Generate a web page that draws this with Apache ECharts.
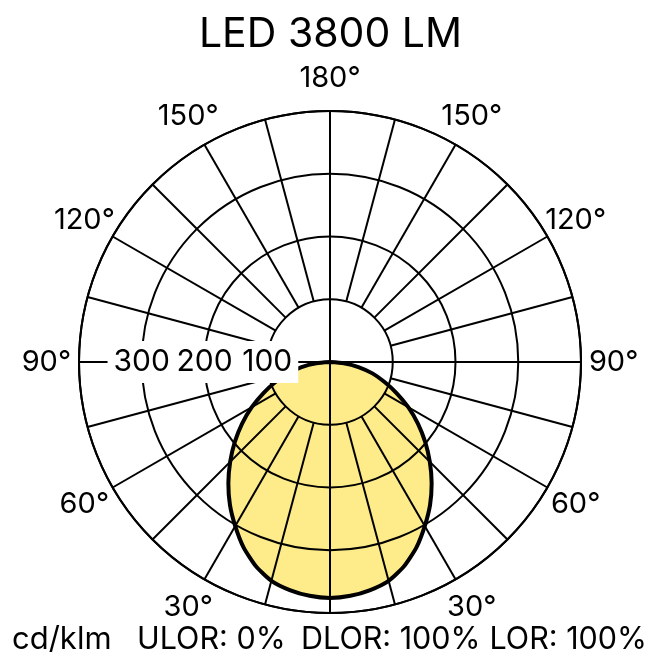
<!DOCTYPE html>
<html><head><meta charset="utf-8">
<script src="https://cdn.jsdelivr.net/npm/echarts@6/dist/echarts.min.js"></script>
<style>html,body{margin:0;padding:0;background:#fff}#c{width:661px;height:661px}</style>
</head><body><div id="c"></div>
<script>
// ---- data ----
const titleText = 'LED 3800 LM';
const unitText = 'cd/klm';
const ratioTexts = ['ULOR: 0%', 'DLOR: 100%', 'LOR: 100%'];
const gammaAngles = [0, 5, 10, 15, 20, 25, 30, 35, 40, 45, 50, 55, 60, 65, 70, 75, 80, 85, 90];
const intensity   = [376, 374, 369, 361, 346, 326, 302, 278, 252, 225, 198, 171, 144, 117, 92, 70, 46, 22, 0];
const radiusMax = 400;
const radiusStep = 100;
const angleLabelStep = 30;
const gridAngleStep = 15;
const gridInnerRadius = 100;

// ---- layout ----
const FONT = 'Inter';
const labelRadius = 452; // where the angle labels sit, in radius-axis units

// axis value: 90 = left horizontal, 180 = top, 270 = right, 360 = bottom
const rightVal = g => 360 - g;
const leftVal = g => 360 + g;
const curve = [];
for (let i = gammaAngles.length - 1; i >= 0; i--) curve.push([intensity[i], rightVal(gammaAngles[i])]);
for (let i = 1; i < gammaAngles.length; i++) curve.push([intensity[i], leftVal(gammaAngles[i])]);

const gridLines = [];
for (let a = 90; a < 450; a += gridAngleStep) gridLines.push([a % 90 === 0 ? 0 : gridInnerRadius, a]);

const angleLabels = [];
for (let a = 90; a < 450; a += angleLabelStep) if (a % 360 !== 0) angleLabels.push([labelRadius, a]);
const angleText = v => { let a = v % 360; if (a > 180) a = 360 - a; return a + '°'; };

const bottomStyle = {fontFamily: FONT, fontSize: 30.5, fontWeight: 'normal', color: '#000'};
const chart = echarts.init(document.getElementById('c'));
chart.setOption({
  animation: false,
  backgroundColor: '#fff',
  title: [
    {text: titleText, left: 'center', top: 9, textStyle: {fontFamily: FONT, fontSize: 41, fontWeight: 'normal', color: '#000'}},
    {text: unitText, left: 7, top: 619, textStyle: Object.assign({}, bottomStyle, {fontSize: 31})},
    {text: ratioTexts[0], left: 132, top: 619, textStyle: bottomStyle},
    {text: ratioTexts[1], left: 296, top: 619, textStyle: bottomStyle},
    {text: ratioTexts[2], right: 9, top: 619, textStyle: bottomStyle}
  ],
  polar: {center: [330, 362], radius: 251},
  angleAxis: {
    type: 'value', min: 90, max: 450, interval: angleLabelStep, startAngle: 180, clockwise: true,
    axisLine: {show: true, lineStyle: {color: '#000', width: 2}},
    axisTick: {show: false},
    splitLine: {show: false},
    axisLabel: {show: false}
  },
  radiusAxis: {
    type: 'value', min: 0, max: radiusMax, interval: radiusStep, z: 10,
    axisLine: {show: true, lineStyle: {color: '#000', width: 2}},
    axisTick: {show: false},
    splitLine: {show: true, lineStyle: {color: '#000', width: 2}},
    axisLabel: {
      showMinLabel: false, showMaxLabel: false, margin: 0, align: 'center', verticalAlign: 'middle',
      fontFamily: FONT, fontSize: 30, color: '#000', backgroundColor: '#fff', padding: [4, 6, 8, 6]
    }
  },
  series: [
    {type: 'line', coordinateSystem: 'polar', data: curve, symbol: 'none', smooth: 0.2, z: 2,
     lineStyle: {width: 0}, areaStyle: {color: '#FEEB8A', opacity: 1}},
    {type: 'custom', coordinateSystem: 'polar', data: gridLines, z: 3,
     renderItem: (params, api) => {
       const p1 = api.coord([api.value(0), api.value(1)]);
       const p2 = api.coord([radiusMax, api.value(1)]);
       return {type: 'line', shape: {x1: p1[0], y1: p1[1], x2: p2[0], y2: p2[1]}, style: {stroke: '#000', lineWidth: 2}};
     }},
    {type: 'line', coordinateSystem: 'polar', data: curve, symbol: 'none', smooth: 0.2, z: 4,
     lineStyle: {color: '#000', width: 4}},
    {type: 'custom', coordinateSystem: 'polar', data: angleLabels, z: 5, clip: false,
     renderItem: (params, api) => {
       const p = api.coord([api.value(0), api.value(1)]);
       return {type: 'text', x: p[0], y: p[1],
         style: {text: angleText(api.value(1)), align: 'center', verticalAlign: 'middle',
                 fontFamily: FONT, fontSize: 29, fill: '#000'}};
     }}
  ]
});
</script></body></html>
